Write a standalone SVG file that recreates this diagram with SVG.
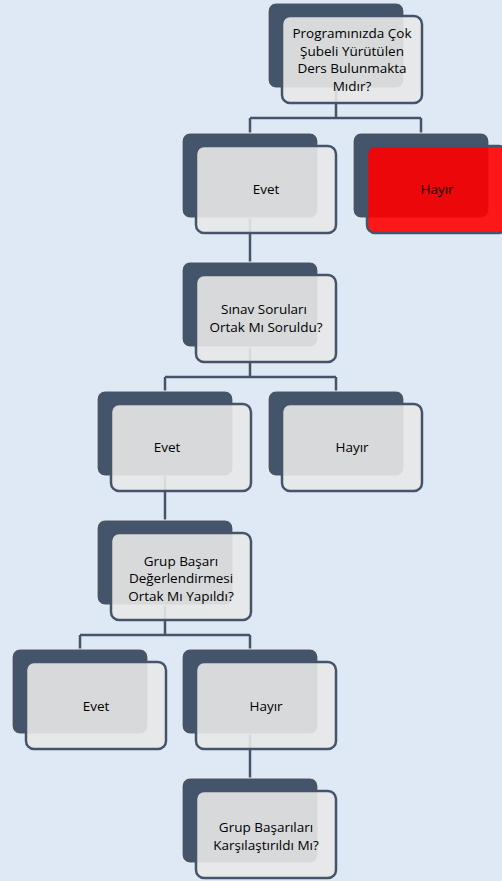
<svg xmlns="http://www.w3.org/2000/svg" width="502" height="881" viewBox="0 0 502 881">
<style>
.bg{fill:#dee9f5}
.back{fill:#44546a;stroke:#ececec;stroke-width:1.2}
.front{fill:#e8e8e8;fill-opacity:0.9;stroke:#44546a;stroke-width:2.5}
.red{fill:#ff0000;fill-opacity:0.9;stroke:#44546a;stroke-width:2.5}
.conn{fill:none;stroke:#44546a;stroke-width:2.5}
text{font-family:"Open Sans","DejaVu Sans",sans-serif;font-size:13.5px;fill:#000;text-anchor:middle}
</style>
<rect class="bg" x="0" y="0" width="502" height="881"/>
<g id="connectors">
<path class="conn" d="M336 88V118M250 118H421M250 118V133M421 118V133"/>
<path class="conn" d="M250 218V262"/>
<path class="conn" d="M250 347V377M165 377H336M165 377V391M336 377V391"/>
<path class="conn" d="M165 476V520"/>
<path class="conn" d="M165 605V635M80 635H250M80 635V649M250 635V649"/>
<path class="conn" d="M250 734V778"/>
</g>
<g id="n1">
<rect class="back" x="268" y="3" width="136" height="85" rx="8"/>
<rect class="front" x="282" y="16" width="140" height="87" rx="8"/>
<text x="352" y="38">Programınızda Çok</text>
<text x="352" y="56">Şubeli Yürütülen</text>
<text x="352" y="73">Ders Bulunmakta</text>
<text x="352" y="91">Mıdır?</text>
</g>
<g id="n1-evet">
<rect class="back" x="182" y="133" width="136" height="85" rx="8"/>
<rect class="front" x="196" y="146" width="140" height="87" rx="8"/>
<text x="266" y="194">Evet</text>
</g>
<g id="n1-hayir">
<rect class="back" x="353" y="133" width="136" height="85" rx="8"/>
<rect class="red" x="367" y="146" width="140" height="87" rx="8"/>
<text x="437" y="194">Hayır</text>
</g>
<g id="n2">
<rect class="back" x="182" y="262" width="136" height="85" rx="8"/>
<rect class="front" x="196" y="275" width="140" height="87" rx="8"/>
<text x="264" y="314">Sınav Soruları</text>
<text x="266" y="332">Ortak Mı Soruldu?</text>
</g>
<g id="n2-evet">
<rect class="back" x="97" y="391" width="136" height="85" rx="8"/>
<rect class="front" x="111" y="404" width="140" height="87" rx="8"/>
<text x="167" y="452">Evet</text>
</g>
<g id="n2-hayir">
<rect class="back" x="268" y="391" width="136" height="85" rx="8"/>
<rect class="front" x="282" y="404" width="140" height="87" rx="8"/>
<text x="352" y="452">Hayır</text>
</g>
<g id="n3">
<rect class="back" x="97" y="520" width="136" height="85" rx="8"/>
<rect class="front" x="111" y="533" width="140" height="87" rx="8"/>
<text x="181" y="566">Grup Başarı</text>
<text x="181" y="583">Değerlendirmesi</text>
<text x="181" y="601">Ortak Mı Yapıldı?</text>
</g>
<g id="n3-evet">
<rect class="back" x="12" y="649" width="136" height="85" rx="8"/>
<rect class="front" x="26" y="662" width="140" height="87" rx="8"/>
<text x="96" y="711">Evet</text>
</g>
<g id="n3-hayir">
<rect class="back" x="182" y="649" width="136" height="85" rx="8"/>
<rect class="front" x="196" y="662" width="140" height="87" rx="8"/>
<text x="266" y="711">Hayır</text>
</g>
<g id="n4">
<rect class="back" x="182" y="778" width="136" height="85" rx="8"/>
<rect class="front" x="196" y="791" width="140" height="87" rx="8"/>
<text x="266" y="832">Grup Başarıları</text>
<text x="266" y="850">Karşılaştırıldı Mı?</text>
</g>
</svg>
